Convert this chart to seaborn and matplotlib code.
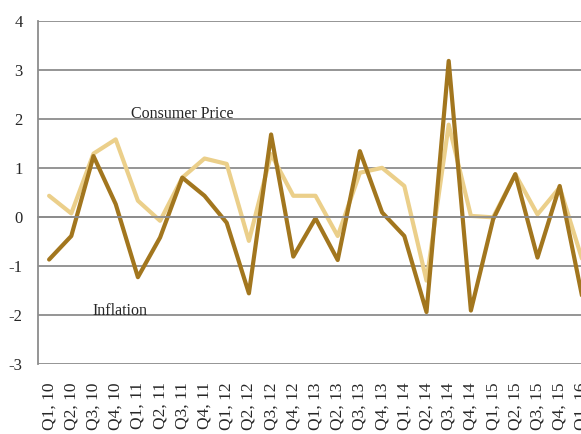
import matplotlib
matplotlib.use("Agg")
import matplotlib.pyplot as plt
import seaborn as sns
import pandas as pd
import numpy as np

quarters = ["Q1, 10", "Q2, 10", "Q3, 10", "Q4, 10",
            "Q1, 11", "Q2, 11", "Q3, 11", "Q4, 11",
            "Q1, 12", "Q2, 12", "Q3, 12", "Q4, 12",
            "Q1, 13", "Q2, 13", "Q3, 13", "Q4, 13",
            "Q1, 14", "Q2, 14", "Q3, 14", "Q4, 14",
            "Q1, 15", "Q2, 15", "Q3, 15", "Q4, 15",
            "Q1, 16"]
consumer_price = [0.43, 0.07, 1.29, 1.58, 0.33, -0.08, 0.80, 1.19, 1.08, -0.49,
                  1.28, 0.43, 0.43, -0.39, 0.90, 1.00, 0.63, -1.30, 1.88, 0.02,
                  -0.01, 0.87, 0.05, 0.60, -0.85]
inflation = [-0.87, -0.39, 1.24, 0.26, -1.23, -0.42, 0.80, 0.43, -0.12, -1.56,
             1.68, -0.81, -0.03, -0.88, 1.34, 0.09, -0.39, -1.94, 3.18, -1.91,
             -0.05, 0.87, -0.83, 0.63, -1.60]

sns.set_style("white")
plt.rcParams["font.family"] = ["Liberation Serif", "DejaVu Serif"]

df = pd.DataFrame({"x": np.arange(len(quarters)),
                   "Consumer Price": consumer_price,
                   "Inflation": inflation})

W, H = 581, 434
fig = plt.figure(figsize=(W / 100, H / 100), dpi=100)
step = 22.2
left = 38
top_px, bot_px = 20.7, 364
ax = fig.add_axes([left / W, (H - bot_px) / H,
                   step * len(quarters) / W, (bot_px - top_px) / H])

light = "#EBCF8A"
dark = "#A2761E"
sns.lineplot(data=df, x="x", y="Consumer Price", ax=ax, color=light,
             linewidth=3.0, legend=False)
sns.lineplot(data=df, x="x", y="Inflation", ax=ax, color=dark,
             linewidth=3.0, legend=False)

ax.set_xlim(-0.5, len(quarters) - 0.5)
ax.set_ylim(-3, 4)
ax.set_yticks(range(-3, 5))
ax.set_yticklabels([str(v) for v in range(-3, 5)], fontsize=12)
ax.yaxis.grid(True, color="#8C8C8C", linewidth=1.3)
ax.xaxis.grid(False)
ax.set_axisbelow(True)

for s in ["top", "right"]:
    ax.spines[s].set_visible(False)
ax.spines["left"].set_color("#8C8C8C")
ax.spines["left"].set_linewidth(1.3)
ax.spines["bottom"].set_position(("data", 0))
ax.spines["bottom"].set_color("#8C8C8C")
ax.spines["bottom"].set_linewidth(1.3)

ax.set_xticks(np.arange(len(quarters)))
ax.set_xticklabels(quarters, rotation=90, fontsize=12.5, va="top", ha="center")
ax.set_xticks(np.arange(len(quarters)) + 0.5, minor=True)
ax.tick_params(axis="x", which="major", length=0, pad=119)
ax.tick_params(axis="x", which="minor", length=3.6, width=1.0,
               color="#8C8C8C", direction="out")
ax.tick_params(axis="y", length=3.6, width=1.0, color="#8C8C8C",
               direction="out", pad=7.5)
ax.set_xlabel("")
ax.set_ylabel("")

ax.text(6.0, 2.1, "Consumer Price", fontsize=11.5, ha="center", va="center")
ax.text(3.2, -1.92, "Inflation", fontsize=11.5, ha="center", va="center")

fig.savefig("out.png", dpi=100)
